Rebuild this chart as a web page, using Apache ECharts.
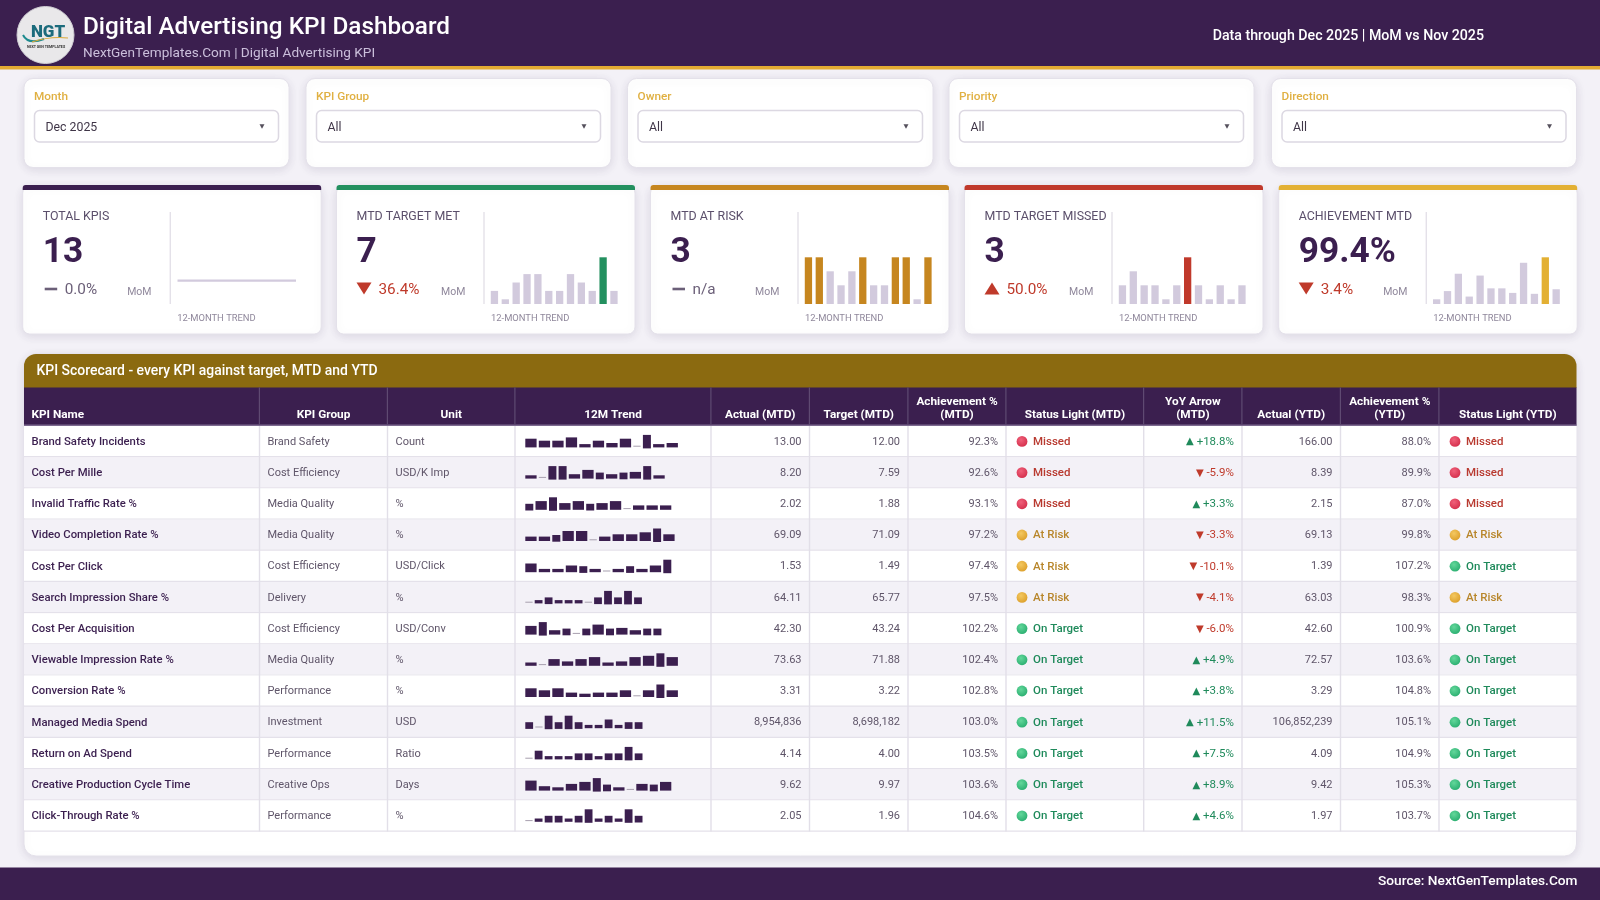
<!DOCTYPE html>
<html>
<head>
<meta charset="utf-8">
<title>Digital Advertising KPI Dashboard</title>
<script src="https://cdn.jsdelivr.net/npm/echarts@6/dist/echarts.min.js"></script>
<style>
  html, body { margin: 0; padding: 0; background: #f3f1f7; }
  #main { width: 1600px; height: 900px; }
</style>
</head>
<body>
<div id="main"></div>
<script>
// ---- data ----
const filterLabels = ['Month', 'KPI Group', 'Owner', 'Priority', 'Direction'];
const filterValues = ['Dec 2025', 'All', 'All', 'All', 'All'];

const months = ['Jan', 'Feb', 'Mar', 'Apr', 'May', 'Jun', 'Jul', 'Aug', 'Sep', 'Oct', 'Nov', 'Dec'];

const cardTitles = ['TOTAL KPIS', 'MTD TARGET MET', 'MTD AT RISK', 'MTD TARGET MISSED', 'ACHIEVEMENT MTD'];
const cardValues = ['13', '7', '3', '3', '99.4%'];
const cardDeltas = ['0.0%', '36.4%', 'n/a', '50.0%', '3.4%'];
const cardDirections = ['flat', 'down', 'flat', 'up', 'down'];

const trendTotal = [13, 13, 13, 13, 13, 13, 13, 13, 13, 13, 13, 13];
const trendMet = [2, 1, 3, 4, 4, 2, 2, 4, 3, 2, 6, 2];
const trendRisk = [3, 3, 2, 1, 2, 3, 1, 1, 3, 3, 0, 3];
const trendMissed = [1, 2, 1, 1, 0, 1, 3, 1, 0, 1, 0, 1];
const trendAchievement = [98.3, 99.2, 101.1, 98.6, 100.9, 99.5, 99.5, 99.0, 102.3, 98.9, 102.9, 99.4];

const tableHeaders = ['KPI Name', 'KPI Group', 'Unit', '12M Trend', 'Actual (MTD)', 'Target (MTD)',
  'Achievement %\n(MTD)', 'Status Light (MTD)', 'YoY Arrow\n(MTD)', 'Actual (YTD)', 'Achievement %\n(YTD)', 'Status Light (YTD)'];

const kpiNames = ['Brand Safety Incidents', 'Cost Per Mille', 'Invalid Traffic Rate %', 'Video Completion Rate %',
  'Cost Per Click', 'Search Impression Share %', 'Cost Per Acquisition', 'Viewable Impression Rate %',
  'Conversion Rate %', 'Managed Media Spend', 'Return on Ad Spend', 'Creative Production Cycle Time', 'Click-Through Rate %'];
const kpiGroups = ['Brand Safety', 'Cost Efficiency', 'Media Quality', 'Media Quality', 'Cost Efficiency', 'Delivery',
  'Cost Efficiency', 'Media Quality', 'Performance', 'Investment', 'Performance', 'Creative Ops', 'Performance'];
const kpiUnits = ['Count', 'USD/K Imp', '%', '%', 'USD/Click', '%', 'USD/Conv', '%', '%', 'USD', 'Ratio', 'Days', '%'];
const actualMtd = ['13.00', '8.20', '2.02', '69.09', '1.53', '64.11', '42.30', '73.63', '3.31', '8,954,836', '4.14', '9.62', '2.05'];
const targetMtd = ['12.00', '7.59', '1.88', '71.09', '1.49', '65.77', '43.24', '71.88', '3.22', '8,698,182', '4.00', '9.97', '1.96'];
const achievementMtd = ['92.3%', '92.6%', '93.1%', '97.2%', '97.4%', '97.5%', '102.2%', '102.4%', '102.8%', '103.0%', '103.5%', '103.6%', '104.6%'];
const statusMtd = ['Missed', 'Missed', 'Missed', 'At Risk', 'At Risk', 'At Risk', 'On Target', 'On Target', 'On Target', 'On Target', 'On Target', 'On Target', 'On Target'];
const yoyMtd = ['+18.8%', '-5.9%', '+3.3%', '-3.3%', '-10.1%', '-4.1%', '-6.0%', '+4.9%', '+3.8%', '+11.5%', '+7.5%', '+8.9%', '+4.6%'];
const actualYtd = ['166.00', '8.39', '2.15', '69.13', '1.39', '63.03', '42.60', '72.57', '3.29', '106,852,239', '4.09', '9.42', '1.97'];
const achievementYtd = ['88.0%', '89.9%', '87.0%', '99.8%', '107.2%', '98.3%', '100.9%', '103.6%', '104.8%', '105.1%', '104.9%', '105.3%', '103.7%'];
const statusYtd = ['Missed', 'Missed', 'Missed', 'At Risk', 'On Target', 'At Risk', 'On Target', 'On Target', 'On Target', 'On Target', 'On Target', 'On Target', 'On Target'];

// 12M trend levels, 1 to 8, one row per KPI
const sparkLevels = [
  [6, 5, 5, 7, 2, 5, 3, 6, 1, 8, 2, 3],
  [2, 1, 8, 8, 3, 6, 4, 3, 4, 5, 8, 2],
  [4, 6, 8, 5, 6, 4, 5, 6, 1, 3, 3, 3],
  [3, 3, 4, 7, 7, 1, 3, 5, 5, 6, 8, 5],
  [6, 2, 2, 5, 4, 2, 1, 2, 4, 2, 5, 8],
  [1, 2, 4, 2, 2, 2, 1, 4, 8, 4, 8, 4],
  [6, 8, 3, 4, 1, 4, 7, 4, 5, 3, 4, 4],
  [2, 1, 5, 3, 5, 6, 2, 3, 6, 7, 8, 6],
  [6, 5, 6, 3, 2, 3, 3, 5, 1, 5, 8, 5],
  [4, 1, 8, 4, 8, 4, 2, 2, 6, 2, 4, 4],
  [1, 6, 2, 2, 2, 4, 4, 2, 4, 4, 8, 4],
  [7, 3, 2, 5, 6, 8, 4, 2, 1, 5, 4, 6],
  [1, 2, 4, 4, 2, 4, 8, 2, 4, 2, 8, 4]
];

// ---- look and layout ----
const FONT = 'Roboto, "Noto Sans", sans-serif';
const PURPLE = '#3b1f4f';
const GOLD = '#e3ab33';
const RED = '#bf3a2b';
const GREEN = '#1f8a5b';
const PALE_BAR = '#d2cadd';
const CARD_COLORS = [PURPLE, '#23905f', '#c6861f', '#c0392b', '#e3b033'];
const STATUS = {
  'Missed': { text: '#b8392f', hi: '#f0607a', lo: '#d42f4c' },
  'At Risk': { text: '#b8862b', hi: '#f4c860', lo: '#dc9f2a' },
  'On Target': { text: '#1f8a5b', hi: '#62d79a', lo: '#2aae70' }
};

const FILTER_BOX = [[24, 289], [306, 611], [627.5, 933], [949, 1254], [1271.5, 1576.5]];
const COLS = [24, 259.5, 387.5, 515, 711, 809.5, 908, 1006, 1143.7, 1242, 1340.5, 1439, 1576.5];
const ROW_TOP = 426;
const ROW_H = 31.2;
const CARD_X = [22.7, 336.5, 650.5, 964.5, 1278.7];

const els = [];
function box(x, y, w, h, fill, extra) {
  const e = Object.assign({ r: 0 }, extra);
  els.push({ type: 'rect', shape: { x, y, width: w, height: h, r: e.r },
    style: { fill, stroke: e.stroke, lineWidth: e.lw, shadowBlur: e.blur, shadowColor: e.shadow, shadowOffsetY: e.offY } });
}
function label(x, y, text, size, fill, weight, align) {
  els.push({ type: 'text', style: { x, y, text, fill, fontFamily: FONT, fontSize: size, fontWeight: weight || 400,
    textAlign: align || 'left', textVerticalAlign: 'middle' } });
}
function triangle(cx, cy, w, h, fill, up) {
  const tip = up ? cy - h / 2 : cy + h / 2;
  const base = up ? cy + h / 2 : cy - h / 2;
  els.push({ type: 'polygon', shape: { points: [[cx - w / 2, base], [cx + w / 2, base], [cx, tip]] }, style: { fill } });
}
function softCard(x, y, w, h, r) {
  box(x, y, w, h, '#fff', { r, stroke: '#e4e1ea', lw: 1, blur: 10, shadow: 'rgba(60,40,90,0.12)', offY: 2 });
}

// header band
box(0, 0, 1600, 66, PURPLE);
box(0, 66, 1600, 3.5, GOLD);
label(83, 28, 'Digital Advertising KPI Dashboard', 24.3, '#fff', 500);
label(83, 54, 'NextGenTemplates.Com | Digital Advertising KPI', 13.6, '#cbbfdb');
label(1484, 36, 'Data through Dec 2025 | MoM vs Nov 2025', 14.2, '#fff', 500, 'right');

// logo badge
els.push({ type: 'circle', shape: { cx: 45.5, cy: 35, r: 28.5 }, style: { fill: '#e9e8ea', stroke: '#cfcdd3', lineWidth: 1 } });
els.push({ type: 'text', style: { x: 48, y: 33, text: 'NGT', fill: '#1c6b7c', fontFamily: FONT, fontSize: 17, fontWeight: 900,
  textAlign: 'center', textVerticalAlign: 'middle' } });
els.push({ type: 'bezierCurve', shape: { x1: 23, y1: 35, x2: 44, y2: 39, cpx1: 28, cpy1: 45 }, style: { stroke: '#1d8a8e', lineWidth: 2, fill: 'none' } });
els.push({ type: 'bezierCurve', shape: { x1: 32, y1: 42, x2: 68, y2: 38, cpx1: 50, cpy1: 36 }, style: { stroke: '#d9a93a', lineWidth: 1.2, fill: 'none' } });
label(46, 47.5, 'NEXT GEN TEMPLATES', 3.6, '#333', 700, 'center');

// filter cards
filterLabels.forEach((name, i) => {
  const [x0, x1] = FILTER_BOX[i];
  softCard(x0, 78.5, x1 - x0, 89, 9);
  label(x0 + 10, 97.5, name, 11.8, '#e0b042', 500);
  box(x0 + 10.5, 110.5, x1 - x0 - 21, 31.5, '#fff', { r: 5, stroke: '#dcd8e2', lw: 1.5 });
  label(x0 + 21.5, 127.5, filterValues[i], 12.3, '#3f3547');
  triangle(x1 - 27, 126.5, 5, 4.5, '#55505c', false);
});

// KPI cards: only the chrome and the texts, trends are real series below
cardTitles.forEach((title, i) => {
  const x = CARD_X[i];
  softCard(x, 186, 298.5, 148, 7);
  box(x, 185, 298.5, 5, CARD_COLORS[i], { r: [3, 3, 0, 0] });
  label(x + 20, 216.5, title, 12.4, '#5b4f6b');
  label(x + 20, 253.5, cardValues[i], 35.3, PURPLE, 700);
  const dir = cardDirections[i];
  if (dir === 'flat') {
    box(x + 22, 287.7, 12.5, 2.6, '#6b5f78');
  } else {
    triangle(x + 27.5, 288.5, 15, 12, RED, dir === 'up');
  }
  label(x + 42, 290, cardDeltas[i], 15.3, dir === 'flat' ? '#6b5f78' : RED);
  label(x + 104.5, 292, 'MoM', 10.5, '#8f879b');
  box(x + 147, 212, 1, 92, '#d9d5e0');
  label(x + 154.5, 318.5, '12-MONTH TREND', 9.4, '#8f879b');
});

// scorecard shell
softCard(24, 354, 1552.5, 502, 12);
box(24, 354, 1552.5, 34, '#8b6a10', { r: [12, 12, 0, 0] });
label(36.5, 372, 'KPI Scorecard - every KPI against target, MTD and YTD', 13.95, '#fff', 500);
box(24, 387.5, 1552.5, 38, PURPLE);
box(24, 424.5, 1552.5, 1.5, '#7d6a90');

tableHeaders.forEach((head, i) => {
  const lines = head.split('\n');
  const x = i === 0 ? 31.5 : (COLS[i] + COLS[i + 1]) / 2;
  const align = i === 0 ? 'left' : 'center';
  lines.forEach((line, k) => {
    label(x, 414.8 - (lines.length - 1 - k) * 12.6, line, 11.8, '#fff', 700, align);
  });
});

kpiNames.forEach((name, r) => {
  const top = ROW_TOP + r * ROW_H;
  const mid = top + 15.9;
  box(24, top, 1552.5, ROW_H - 1, r % 2 ? '#f3f1f7' : '#fff');
  box(24, top + ROW_H - 1.2, 1552.5, 1.4, '#e4e1ea');
  label(31.5, mid, name, 11.3, PURPLE, 500);
  label(267.5, mid, kpiGroups[r], 11, '#5f5569');
  label(395.5, mid, kpiUnits[r], 11, '#5f5569');
  label(COLS[5] - 8, mid, actualMtd[r], 11, '#5f5569', 400, 'right');
  label(COLS[6] - 8, mid, targetMtd[r], 11, '#5f5569', 400, 'right');
  label(COLS[7] - 8, mid, achievementMtd[r], 11, '#5f5569', 400, 'right');
  label(COLS[10] - 8, mid, actualYtd[r], 11, '#5f5569', 400, 'right');
  label(COLS[11] - 8, mid, achievementYtd[r], 11, '#5f5569', 400, 'right');

  [[COLS[7], statusMtd[r]], [COLS[11], statusYtd[r]]].forEach(([cx, s]) => {
    const st = STATUS[s];
    els.push({ type: 'circle', shape: { cx: cx + 16, cy: top + 15.4, r: 5.4 }, style: {
      fill: { type: 'radial', x: 0.4, y: 0.35, r: 0.7, colorStops: [{ offset: 0, color: st.hi }, { offset: 1, color: st.lo }] } } });
    label(cx + 27, mid, s, 11.5, st.text, 500);
  });

  // YoY: arrow glyph follows the sign of the change
  const up = yoyMtd[r].charAt(0) === '+';
  els.push({ type: 'text', style: { x: COLS[9] - 8, y: mid, text: '{a|' + (up ? '▲' : '▼') + '} ' + yoyMtd[r],
    fill: up ? GREEN : RED, fontFamily: FONT, fontSize: 11.5, textAlign: 'right', textVerticalAlign: 'middle',
    rich: { a: { fontSize: 10, fontFamily: 'DejaVu Sans', fill: up ? GREEN : RED } } } });
});

// column rules go over the rows
COLS.slice(1, -1).forEach(x => {
  box(x - 0.7, 387.5, 1.2, 37, '#5f4a72');
  box(x - 0.7, ROW_TOP, 1.4, ROW_H * 13, '#e2dfe8');
});

// footer band
box(0, 867.5, 1600, 32.5, PURPLE);
label(1577.5, 882, 'Source: NextGenTemplates.Com', 13.7, '#fff', 500, 'right');

// ---- real series ----
const grid = [], xAxis = [], yAxis = [], series = [];

function addGrid(g, x, y) {
  grid.push(g);
  xAxis.push(Object.assign({ gridIndex: grid.length - 1, show: false }, x));
  yAxis.push(Object.assign({ gridIndex: grid.length - 1, show: false }, y));
  return grid.length - 1;
}

// flat line for total KPIs
const g0 = addGrid({ left: 177.5, top: 257.3, width: 118.5, height: 46.7 },
  { type: 'category', data: months, boundaryGap: false }, { type: 'value', min: 0, max: 26 });
series.push({ type: 'line', xAxisIndex: g0, yAxisIndex: g0, data: trendTotal, showSymbol: false,
  lineStyle: { color: PALE_BAR, width: 2.4 }, silent: true });

// month bars, the axis floor sits under the lowest month so even it shows a stub;
// custom rects because a bar series would start from zero instead of the floor
[trendMet, trendRisk, trendMissed, trendAchievement].forEach((vals, k) => {
  const i = k + 1;
  const hi = Math.max(...vals), lo = Math.min(...vals);
  const idx = addGrid({ left: CARD_X[i] + 152.5, top: 257.3, width: 130.4, height: 46.7 },
    { type: 'category', data: months },
    { type: 'value', max: hi, min: lo - (hi - lo) * 4.7 / 42 });
  series.push({
    type: 'custom', xAxisIndex: idx, yAxisIndex: idx, silent: true,
    data: vals.map((v, m) => [m, v]),
    encode: { x: 0, y: 1 },
    renderItem: (params, api) => {
      const v = api.value(1);
      const p = api.coord([api.value(0), v]);
      const floor = params.coordSys.y + params.coordSys.height;
      return { type: 'rect', shape: { x: p[0] - 3.65, y: p[1], width: 7.3, height: floor - p[1] },
        style: { fill: v === hi ? CARD_COLORS[i] : PALE_BAR } };
    }
  });
});

// 12M sparkbars: levels look like block glyphs with two widths, so x is run on from bar to bar
const GLYPH_SPAN = { 1: [0.7, 1.7], 2: [0, 3.3], 3: [0, 4.4], 4: [-0.7, 6], 5: [0, 6.7], 6: [0, 8.7], 7: [0, 10], 8: [-1, 12.5] };
const NARROW_ROWS = [5, 9, 10, 12];

sparkLevels.forEach((levels, r) => {
  const allNarrow = NARROW_ROWS.includes(r);
  let run = 0;
  const data = levels.map(lv => {
    let w = 11.3, step = 13.5;
    if (lv === 1) { w = 7.3; step = allNarrow ? 9.4 : 9.6; }
    else if (allNarrow) { w = 7.8; step = 10; }
    else if (lv === 4 || lv === 8) { w = 8; step = 10.2; }
    const item = [run, lv, w];
    run += step;
    return item;
  });
  const base = ROW_TOP + r * ROW_H + 21.4;
  const idx = addGrid({ left: 525.3, top: base - 15, width: 180, height: 17 },
    { type: 'value', min: 0, max: 180 }, { type: 'value', min: -2, max: 15 });
  series.push({
    type: 'custom', xAxisIndex: idx, yAxisIndex: idx, silent: true, data,
    encode: { x: 0, y: 1 },
    renderItem: (params, api) => {
      const x = api.value(0), lv = api.value(1), w = api.value(2);
      const span = GLYPH_SPAN[lv];
      const a = api.coord([x, span[0]]);
      const b = api.coord([x + w, span[1]]);
      return { type: 'rect', shape: { x: a[0], y: b[1], width: b[0] - a[0], height: a[1] - b[1] },
        style: { fill: lv === 1 ? '#a79fae' : PURPLE } };
    }
  });
});

const chart = echarts.init(document.getElementById('main'));
chart.setOption({
  animation: false,
  backgroundColor: '#f3f1f7',
  tooltip: { show: false },
  grid, xAxis, yAxis, series,
  graphic: { elements: els }
});
window.addEventListener('resize', () => chart.resize());
</script>
</body>
</html>
